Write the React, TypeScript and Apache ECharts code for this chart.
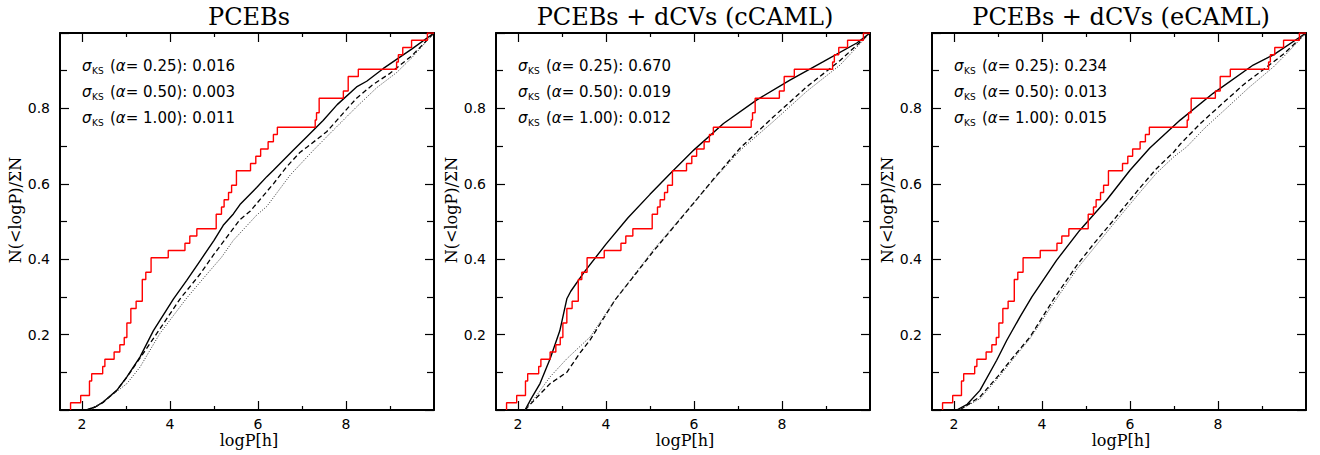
import React, { useEffect, useRef } from "react";
import * as echarts from "echarts";

// ---------- data ----------
const X_MIN = 1.5;
const X_MAX = 10;
const xMajorTicks = [2, 4, 6, 8];
const xMinorTicks = [3, 5, 7, 9];

const panelTitles = ["PCEBs", "PCEBs + dCVs (cCAML)", "PCEBs + dCVs (eCAML)"];
const xAxisTitle = "logP[h]";
const yAxisTitle = "N(<logP)/\u03A3N";
const alphaLabels = ["0.25", "0.50", "1.00"];
const sigmaPanel1 = ["0.016", "0.003", "0.011"];
const sigmaPanel2 = ["0.670", "0.019", "0.012"];
const sigmaPanel3 = ["0.234", "0.013", "0.015"];

// observed logP values (sorted), cumulative step
const obsLogP = [
  1.74, 1.97, 2.17, 2.17, 2.22, 2.47, 2.52, 2.73, 2.86, 2.96, 3.02, 3.02, 3.11, 3.11,
  3.23, 3.37, 3.37, 3.37, 3.45, 3.57, 3.57, 3.96, 4.34, 4.45, 4.61, 5.05, 5.05, 5.17,
  5.23, 5.33, 5.4, 5.51, 5.51, 5.83, 5.95, 6.06, 6.23, 6.35, 6.44, 7.3, 7.33, 7.39,
  7.39, 7.94, 8.05, 8.05, 8.28, 9.15, 9.19, 9.29, 9.49, 9.85,
];

// model curves, panel 1 (PCEBs)
const p1Solid = [[2.1,0],[2.3,0.008],[2.48,0.021],[2.79,0.052],[3.02,0.088],[3.32,0.141],[3.62,0.21],[4.08,0.295],[4.38,0.344],[4.68,0.395],[5.0,0.45],[5.21,0.49],[5.44,0.52],[5.59,0.545],[5.97,0.59],[6.2,0.619],[6.35,0.636],[6.8,0.689],[7.11,0.725],[7.48,0.768],[7.8,0.81],[8.24,0.857],[8.47,0.872],[8.85,0.906],[9.15,0.93],[9.5,0.958],[10,1]];
const p1Dashed = [[2.1,0],[2.3,0.008],[2.48,0.02],[2.79,0.052],[3.02,0.087],[3.32,0.138],[3.7,0.203],[4.23,0.295],[4.68,0.36],[4.98,0.41],[5.3,0.46],[5.59,0.505],[5.82,0.527],[6.35,0.6],[6.65,0.645],[6.95,0.683],[7.11,0.697],[7.56,0.738],[8.24,0.827],[8.6,0.862],[9.0,0.893],[9.5,0.94],[10,1]];
const p1Dotted = [[2.2,0],[2.41,0.017],[2.8,0.05],[3.02,0.07],[3.32,0.114],[3.77,0.203],[4.38,0.297],[4.8,0.355],[5.17,0.405],[5.44,0.45],[5.97,0.517],[6.2,0.54],[6.73,0.623],[7.26,0.689],[7.64,0.734],[8.24,0.804],[8.7,0.855],[9.15,0.895],[9.5,0.935],[10,1]];

// model curves, panel 2 (cCAML)
const p2Solid = [[2.16,0],[2.3,0.03],[2.5,0.07],[2.73,0.136],[2.95,0.21],[3.11,0.295],[3.2,0.315],[3.5,0.365],[4.0,0.44],[4.5,0.51],[5.0,0.572],[5.5,0.632],[6.0,0.69],[6.67,0.76],[7.42,0.822],[8.18,0.875],[8.94,0.924],[9.7,0.9735],[10,1]];
const p2Dashed = [[2.16,0],[2.4,0.03],[2.73,0.07],[3.11,0.1],[3.4,0.15],[3.64,0.186],[4.2,0.291],[5.07,0.42],[5.98,0.547],[6.44,0.612],[7.05,0.695],[7.8,0.777],[8.56,0.857],[9.32,0.927],[10,1]];
const p2Dotted = [[2.16,0],[2.4,0.035],[2.73,0.088],[3.11,0.136],[3.64,0.194],[4.2,0.291],[5.07,0.424],[5.98,0.548],[6.44,0.61],[7.05,0.689],[7.8,0.765],[8.56,0.845],[9.32,0.915],[10,1]];

// model curves, panel 3 (eCAML)
const p3Solid = [[2.06,0],[2.3,0.015],[2.59,0.052],[2.97,0.132],[3.2,0.185],[3.5,0.247],[3.77,0.3],[4.33,0.397],[4.86,0.477],[5.47,0.557],[6.0,0.636],[6.45,0.695],[7.14,0.769],[7.89,0.84],[8.8,0.915],[9.26,0.942],[10,1]];
const p3Dashed = [[2.13,0],[2.59,0.035],[3.0,0.09],[3.35,0.141],[3.73,0.194],[4.27,0.295],[4.8,0.385],[5.17,0.44],[5.6,0.5],[6.23,0.59],[6.6,0.64],[7.0,0.685],[7.14,0.705],[7.6,0.76],[8.1,0.813],[8.6,0.865],[9.11,0.91],[9.5,0.945],[10,1]];
const p3Dotted = [[2.13,0],[2.59,0.03],[3.0,0.085],[3.35,0.136],[3.73,0.19],[4.3,0.29],[4.8,0.375],[5.17,0.428],[5.6,0.49],[6.23,0.578],[6.6,0.628],[7.0,0.672],[7.29,0.698],[7.7,0.748],[8.17,0.798],[8.7,0.855],[9.26,0.91],[9.6,0.95],[10,1]];

const panelCurves = [
  [p1Solid, p1Dashed, p1Dotted],
  [p2Solid, p2Dashed, p2Dotted],
  [p3Solid, p3Dashed, p3Dotted],
];
const panelSigmas = [sigmaPanel1, sigmaPanel2, sigmaPanel3];

// ---------- layout ----------
const GRID_LEFTS = [60, 496, 932];
const GRID_TOP = 33;
const GRID_W = 374;
const GRID_H = 377;
const ROW_Y = [66, 92, 118];

function buildOption() {
  const N = obsLogP.length;
  const obsStep: number[][] = [[obsLogP[0], 0]];
  obsLogP.forEach((x, i) => obsStep.push([x, (i + 1) / N]));
  obsStep.push([X_MAX, 1]);

  const axisLineStyle = { color: "#000", width: 2 };
  const tickStyle = { color: "#000", width: 1.2 };
  const grids: any[] = [];
  const xAxes: any[] = [];
  const yAxes: any[] = [];
  const series: any[] = [];
  const graphics: any[] = [];

  for (let i = 0; i < 3; i++) {
    grids.push({ left: GRID_LEFTS[i], top: GRID_TOP, width: GRID_W, height: GRID_H, containLabel: false });
    const xBase = {
      type: "value", gridIndex: i, min: X_MIN, max: X_MAX,
      splitLine: { show: false },
    };
    xAxes.push({
      ...xBase, position: "bottom",
      axisLine: { show: true, onZero: false, lineStyle: axisLineStyle },
      axisTick: { show: true, inside: true, length: 9, customValues: xMajorTicks, lineStyle: tickStyle },
      axisLabel: { show: true, customValues: xMajorTicks, margin: 7, color: "#000", fontFamily: "DejaVu Sans", fontSize: 14 },
    });
    xAxes.push({
      ...xBase, position: "bottom",
      axisLine: { show: false, onZero: false },
      axisTick: { show: true, inside: true, length: 4, customValues: xMinorTicks, lineStyle: tickStyle },
      axisLabel: { show: false },
    });
    xAxes.push({
      ...xBase, position: "top",
      axisLine: { show: true, onZero: false, lineStyle: axisLineStyle },
      axisTick: { show: true, inside: true, length: 9, customValues: xMajorTicks, lineStyle: tickStyle },
      axisLabel: { show: false },
    });
    xAxes.push({
      ...xBase, position: "top",
      axisLine: { show: false, onZero: false },
      axisTick: { show: true, inside: true, length: 4, customValues: xMinorTicks, lineStyle: tickStyle },
      axisLabel: { show: false },
    });
    const yBase = {
      type: "value", gridIndex: i, min: 0, max: 1, interval: 0.2,
      splitLine: { show: false },
      axisLine: { show: true, onZero: false, lineStyle: axisLineStyle },
      axisTick: { show: true, inside: true, length: 9, lineStyle: tickStyle },
      minorTick: { show: true, splitNumber: 2, length: 7, lineStyle: tickStyle },
    };
    yAxes.push({
      ...yBase, position: "left",
      axisLabel: {
        show: true, margin: 10, color: "#000", fontFamily: "DejaVu Sans", fontSize: 14,
        formatter: (v: number) => (v > 0.05 && v < 0.95 ? v.toFixed(1) : ""),
      },
    });
    yAxes.push({ ...yBase, position: "right", axisLabel: { show: false } });

    const [solid, dashed, dotted] = panelCurves[i];
    const common = { type: "line", xAxisIndex: 4 * i, yAxisIndex: 2 * i, showSymbol: false, symbol: "none", silent: true };
    series.push({ ...common, name: `solid${i}`, data: solid, lineStyle: { color: "#000", width: 1.4, type: "solid" } });
    series.push({ ...common, name: `dashed${i}`, data: dashed, lineStyle: { color: "#000", width: 1.3, type: [5, 3] } });
    series.push({ ...common, name: `dotted${i}`, data: dotted, lineStyle: { color: "#333", width: 1, type: [1, 1.6] } });
    series.push({ ...common, name: `obs${i}`, data: obsStep, step: "end", lineStyle: { color: "#ff0000", width: 1.4 }, z: 5 });

    const L = GRID_LEFTS[i];
    const cx = L + GRID_W / 2 + 2;
    graphics.push({
      type: "text", x: cx, y: 17,
      style: { text: panelTitles[i], fontFamily: "DejaVu Serif", fontSize: 24, fill: "#000", align: "center", verticalAlign: "middle" },
    });
    graphics.push({
      type: "text", x: cx, y: 440,
      style: { text: xAxisTitle, fontFamily: "DejaVu Serif", fontSize: 16, fill: "#000", align: "center", verticalAlign: "middle" },
    });
    graphics.push({
      type: "text", x: L - 44.5, y: 210, rotation: Math.PI / 2,
      style: { text: yAxisTitle, fontFamily: "DejaVu Serif", fontSize: 16, fill: "#000", align: "center", verticalAlign: "middle" },
    });
    for (let r = 0; r < 3; r++) {
      const y = ROW_Y[r];
      graphics.push({
        type: "text", x: L + 22, y,
        style: { text: "\u03C3", fontFamily: "DejaVu Sans", fontSize: 15, fontStyle: "italic", fill: "#000", verticalAlign: "middle" },
      });
      graphics.push({
        type: "text", x: L + 32, y: y + 5,
        style: { text: "KS", fontFamily: "DejaVu Sans", fontSize: 9, fill: "#000", verticalAlign: "middle" },
      });
      graphics.push({
        type: "text", x: L + 50, y,
        style: {
          text: `({a|\u03B1}= ${alphaLabels[r]}): ${panelSigmas[i][r]}`,
          fontFamily: "DejaVu Sans", fontSize: 15, fill: "#000", verticalAlign: "middle",
          rich: { a: { fontFamily: "DejaVu Sans", fontSize: 15, fontStyle: "italic", fill: "#000" } },
        },
      });
    }
  }

  return {
    animation: false,
    backgroundColor: "#fff",
    grid: grids,
    xAxis: xAxes,
    yAxis: yAxes,
    series,
    graphic: graphics,
  };
}

export default function App() {
  const ref = useRef<HTMLDivElement>(null);
  useEffect(() => {
    if (!ref.current) return;
    const chart = echarts.init(ref.current, undefined, { renderer: "svg" });
    chart.setOption(buildOption() as any);
    return () => chart.dispose();
  }, []);
  return (
    <div
      ref={ref}
      style={{ position: "absolute", left: 0, top: 0, width: 1320, height: 455, background: "#fff" }}
    />
  );
}
